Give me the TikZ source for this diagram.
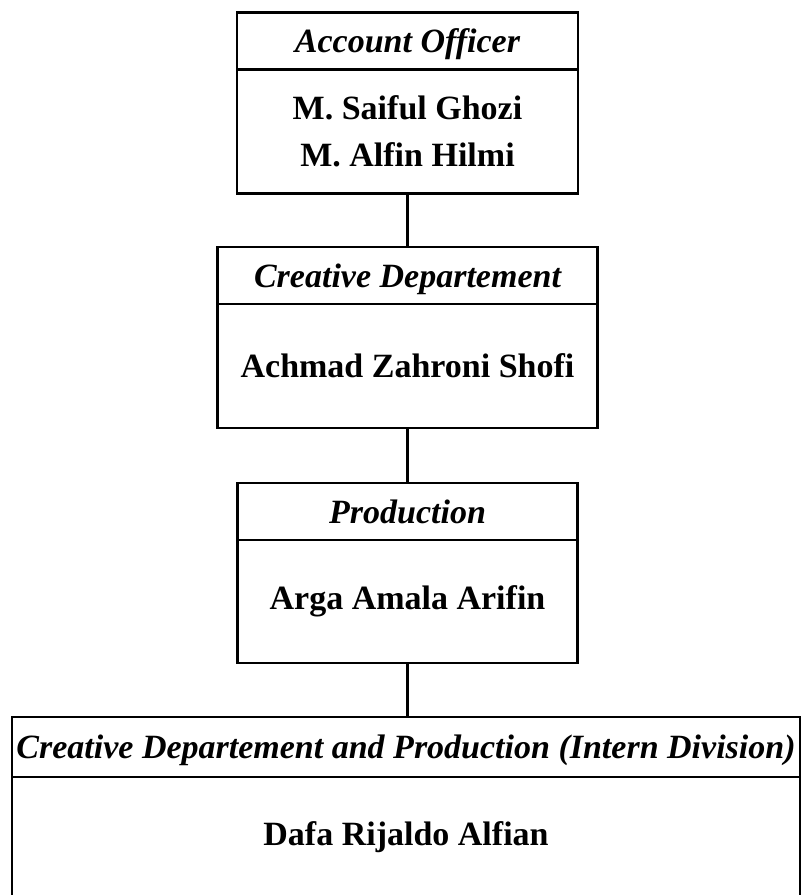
\documentclass[tikz,border=0pt]{standalone}
\usepackage{fontspec}
\setmainfont{Liberation Serif}
\usetikzlibrary{positioning}

\begin{document}
\begin{tikzpicture}[x=1pt,y=-1pt,
  unithead/.style={draw,line width=2.8pt,rectangle,inner sep=0pt,outer sep=0pt,
    anchor=north,minimum height=57pt,text height=23pt,text depth=0pt,
    font=\fontsize{34}{40}\selectfont\bfseries\itshape},
  unitbody/.style={draw,line width=2.8pt,rectangle,inner sep=0pt,outer sep=0pt,
    minimum height=124pt,align=center,
    font=\fontsize{34}{47}\selectfont\bfseries},
  link/.style={line width=2.8pt}]
\useasboundingbox (0,0) rectangle (801,895);
\clip (0,0) rectangle (801,895);

% Account Officer
\node[unithead,minimum width=341pt] (aoTitle) at (407.5,12.7) {Account Officer};
\node[unitbody,minimum width=341pt,below=0pt of aoTitle] (aoNames)
  {M. Saiful Ghozi\\M. Alfin Hilmi};

% Creative Departement
\node[unithead,minimum width=380pt] (cdTitle) at (407.5,247) {Creative Departement};
\node[unitbody,minimum width=380pt,below=0pt of cdTitle] (cdName)
  {Achmad Zahroni Shofi};

% Production
\node[unithead,minimum width=340pt] (prTitle) at (407.5,483) {Production};
\node[unitbody,minimum width=340pt,minimum height=123pt,below=0pt of prTitle] (prName)
  {Arga Amala Arifin};

% Intern Division
\node[unithead,minimum width=788pt,minimum height=60pt] (inTitle) at (406,717)
  {Creative Departement and Production (Intern Division)};
\node[unitbody,minimum width=788pt,minimum height=180pt,
  text height=68pt,text depth=112pt,below=0pt of inTitle] (inName)
  {Dafa Rijaldo Alfian};

\draw[link] (aoNames.south) -- (cdTitle.north);
\draw[link] (cdName.south) -- (prTitle.north);
\draw[link] (prName.south) -- (prName.south |- inTitle.north);
\end{tikzpicture}
\end{document}
